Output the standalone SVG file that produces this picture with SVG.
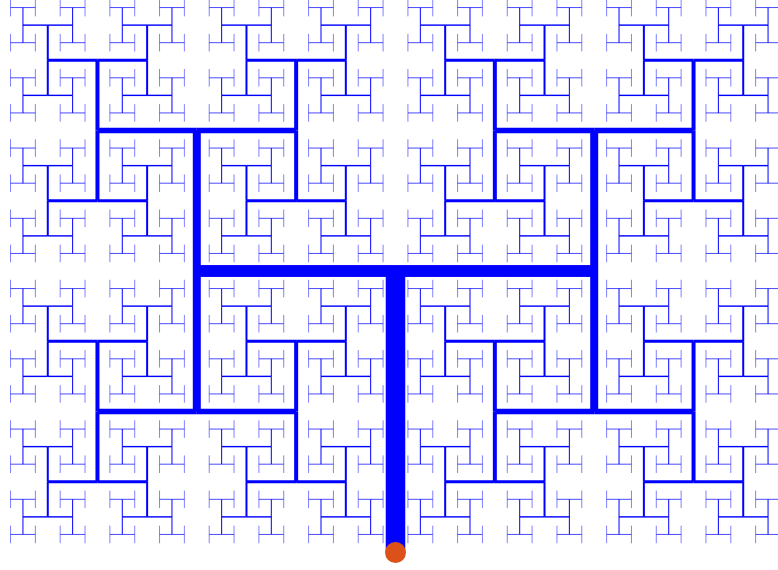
<svg xmlns="http://www.w3.org/2000/svg" width="778" height="570" viewBox="0 0 778 570">
<style>
.seg{fill:none;stroke:#0000ff;stroke-width:16;stroke-linecap:butt}
.trunk{fill:none;stroke:#0000ff;stroke-width:19.5;stroke-linecap:butt}
.bar{fill:none;stroke:#0000ff;stroke-width:11.31;stroke-linecap:butt}
.root{fill:#dc5119;stroke:none}
</style>
<defs>
<path id="t0" class="seg" d="M0 0V-281"/>
<g id="t1"><use href="#t0"/><use href="#t0" transform="translate(0,-281) rotate(90) scale(0.70710678)"/><use href="#t0" transform="translate(0,-281) rotate(-90) scale(0.70710678)"/></g>
<g id="t2"><use href="#t0"/><use href="#t1" transform="translate(0,-281) rotate(90) scale(0.70710678)"/><use href="#t1" transform="translate(0,-281) rotate(-90) scale(0.70710678)"/></g>
<g id="t3"><use href="#t0"/><use href="#t2" transform="translate(0,-281) rotate(90) scale(0.70710678)"/><use href="#t2" transform="translate(0,-281) rotate(-90) scale(0.70710678)"/></g>
<g id="t4"><use href="#t0"/><use href="#t3" transform="translate(0,-281) rotate(90) scale(0.70710678)"/><use href="#t3" transform="translate(0,-281) rotate(-90) scale(0.70710678)"/></g>
<g id="t5"><use href="#t0"/><use href="#t4" transform="translate(0,-281) rotate(90) scale(0.70710678)"/><use href="#t4" transform="translate(0,-281) rotate(-90) scale(0.70710678)"/></g>
<g id="t6"><use href="#t0"/><use href="#t5" transform="translate(0,-281) rotate(90) scale(0.70710678)"/><use href="#t5" transform="translate(0,-281) rotate(-90) scale(0.70710678)"/></g>
<g id="t7"><use href="#t0"/><use href="#t6" transform="translate(0,-281) rotate(90) scale(0.70710678)"/><use href="#t6" transform="translate(0,-281) rotate(-90) scale(0.70710678)"/></g>
<g id="t8"><use href="#t0"/><use href="#t7" transform="translate(0,-281) rotate(90) scale(0.70710678)"/><use href="#t7" transform="translate(0,-281) rotate(-90) scale(0.70710678)"/></g>
<g id="t9"><use href="#t0"/><use href="#t8" transform="translate(0,-281) rotate(90) scale(0.70710678)"/><use href="#t8" transform="translate(0,-281) rotate(-90) scale(0.70710678)"/></g>
</defs>
<rect width="778" height="570" fill="#ffffff"/>
<g id="htree" transform="translate(395.5,552)">
<g id="branches">
<use href="#t9" transform="translate(0,-281) rotate(90) scale(0.70710678)"/>
<use href="#t9" transform="translate(0,-281) rotate(-90) scale(0.70710678)"/>
</g>
<path id="crossbar" class="bar" d="M-198.7 -281H198.7"/>
<path id="trunk" class="trunk" d="M0 0V-281"/>
<circle id="root" class="root" cx="0" cy="0.5" r="10.5"/>
</g>
</svg>
